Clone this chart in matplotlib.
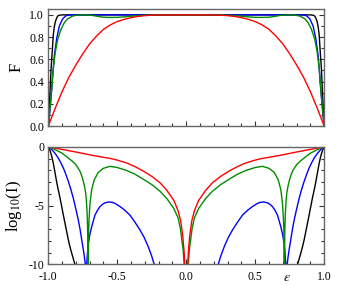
import numpy as np
import matplotlib
matplotlib.use("Agg")
import matplotlib.pyplot as plt
from matplotlib.ticker import MultipleLocator

plt.rcParams['font.family'] = ['Liberation Serif', 'DejaVu Serif']
plt.rcParams['mathtext.fontset'] = 'stix'
plt.rcParams['axes.unicode_minus'] = False

# values read for eps in [-1, 0]; the curves are mirror images about eps = 0
# top panel: F
eps_F_black = [-1, -0.995, -0.988, -0.98, -0.975, -0.97, -0.964, -0.957, -0.949, -0.94, -0.932, -0.92, -0.9, -0.8, 0]
F_black = [0, 0.12, 0.31, 0.52, 0.61, 0.70, 0.82, 0.89, 0.94, 0.97, 0.99, 0.997, 1.0, 1.0, 1.0]

eps_F_blue = [-1, -0.99, -0.983, -0.975, -0.968, -0.956, -0.939, -0.92, -0.896, -0.872, -0.848, -0.8, 0]
F_blue = [0, 0.12, 0.22, 0.34, 0.46, 0.64, 0.79, 0.90, 0.965, 0.992, 0.999, 1.0, 1.0]

eps_F_green = [-1, -0.988, -0.975, -0.964, -0.949, -0.932, -0.908, -0.884, -0.86, -0.823, -0.787,
               -0.75, -0.72, -0.68, -0.64, -0.6, -0.55, -0.5, -0.45, -0.4, -0.35, -0.3, -0.2, -0.1, 0]
F_green = [0, 0.16, 0.34, 0.52, 0.67, 0.78, 0.87, 0.93, 0.965, 0.99, 0.998,
           1.0, 1.0, 0.995, 0.986, 0.979, 0.977, 0.978, 0.982, 0.988, 0.993, 0.997, 1.0, 1.0, 1.0]

eps_F_red = [-1, -0.95, -0.9, -0.85, -0.8, -0.75, -0.7, -0.65, -0.6, -0.55, -0.5, -0.45, -0.4,
             -0.35, -0.3, -0.25, -0.2, -0.1, 0]
F_red = [0, 0.16, 0.31, 0.44, 0.55, 0.65, 0.74, 0.81, 0.87, 0.91, 0.94, 0.96, 0.975,
         0.986, 0.993, 0.997, 0.999, 1.0, 1.0]

# bottom panel: log10(I)
eps_I_black = [-1, -0.988, -0.975, -0.963, -0.951, -0.94, -0.928, -0.915, -0.903, -0.891, -0.879,
               -0.867, -0.855, -0.843, -0.83, -0.807, -0.78, 0]
I_black = [0, -0.3, -0.8, -1.45, -2.22, -2.95, -3.65, -4.35, -5.07, -5.8, -6.5,
           -7.2, -7.9, -8.5, -9.06, -10, -11, -16]

eps_I_blue = [-1, -0.982, -0.964, -0.946, -0.928, -0.91, -0.891, -0.873, -0.855, -0.837, -0.819,
              -0.801, -0.783, -0.77, -0.758, -0.748, -0.739, -0.732, -0.727, -0.722, -0.716, -0.71,
              -0.698, -0.686, -0.662, -0.644, -0.625, -0.607, -0.589, -0.56, -0.535, -0.517, -0.48,
              -0.444, -0.408, -0.372, -0.335, -0.305, -0.275, -0.25, -0.232, -0.21, -0.1, 0]
I_blue = [0, -0.15, -0.37, -0.63, -0.94, -1.33, -1.79, -2.33, -2.93, -3.6, -4.36,
          -5.25, -6.2, -7.0, -7.9, -8.6, -9.3, -10.0, -11, -10.0, -9.0, -8.2,
          -7.4, -6.8, -5.8, -5.4, -5.07, -4.88, -4.75, -4.68, -4.72, -4.8, -5.07,
          -5.4, -5.8, -6.4, -7.07, -7.7, -8.5, -9.3, -10, -11, -13, -14]

eps_I_green = [-1, -0.975, -0.951, -0.927, -0.903, -0.879, -0.855, -0.831, -0.807, -0.788, -0.77,
               -0.758, -0.746, -0.737, -0.729, -0.724, -0.72, -0.717, -0.715, -0.713, -0.712,
               -0.711, -0.708, -0.705, -0.698, -0.686, -0.667, -0.638, -0.601, -0.553, -0.5,
               -0.432, -0.37, -0.312, -0.25, -0.188, -0.14, -0.092, -0.06, -0.043, -0.022,
               -0.015, -0.008, 0]
I_green = [0, -0.1, -0.23, -0.37, -0.51, -0.72, -0.94, -1.17, -1.42, -1.72, -2.08,
           -2.45, -2.93, -3.4, -3.93, -4.6, -5.36, -6.2, -7.1, -9, -12,
           -12, -7.2, -6.2, -4.8, -3.65, -2.79, -2.17, -1.82, -1.65, -1.75,
           -2.0, -2.33, -2.74, -3.2, -3.79, -4.4, -5.2, -6.0, -6.9, -8.8,
           -10.0, -12, -14]

eps_I_red = [-1, -0.95, -0.9, -0.85, -0.8, -0.75, -0.7, -0.65, -0.6, -0.55, -0.5, -0.43, -0.37,
             -0.31, -0.25, -0.19, -0.14, -0.09, -0.06, -0.04, -0.025, -0.015, -0.01, 0]
I_red = [0, -0.1, -0.21, -0.32, -0.43, -0.55, -0.67, -0.78, -0.88, -0.98, -1.12, -1.37, -1.68,
         -2.06, -2.5, -3.05, -3.7, -4.55, -5.4, -6.3, -7.6, -9.0, -10.3, -13]

colors = {'black': 'black', 'blue': '#0000ff', 'green': '#008c00', 'red': '#ff0000'}


def mirror(e, v):
    e = np.asarray(e, float)
    v = np.asarray(v, float)
    return np.concatenate([e, -e[-2::-1]]), np.concatenate([v, v[-2::-1]])


fig = plt.figure(figsize=(3.38, 2.86), dpi=100)
ax1 = fig.add_axes([0.143, 0.5594, 0.816, 0.408])
ax2 = fig.add_axes([0.143, 0.0752, 0.816, 0.411])

top = [(eps_F_black, F_black, 'black'), (eps_F_blue, F_blue, 'blue'),
       (eps_F_green, F_green, 'green'), (eps_F_red, F_red, 'red')]
bot = [(eps_I_black, I_black, 'black'), (eps_I_blue, I_blue, 'blue'),
       (eps_I_green, I_green, 'green'), (eps_I_red, I_red, 'red')]

for e, v, c in top:
    x, y = mirror(e, v)
    ax1.plot(x, y, color=colors[c], lw=1.0)
for e, v, c in bot:
    x, y = mirror(e, v)
    ax2.plot(x, y, color=colors[c], lw=1.0)

ax1.set_xlim(-1, 1)
ax1.set_ylim(0, 1.05)
ax2.set_xlim(-1, 1)
ax2.set_ylim(-10, 0)

ax1.xaxis.set_major_locator(MultipleLocator(0.5))
ax1.xaxis.set_minor_locator(MultipleLocator(0.1))
ax1.yaxis.set_minor_locator(MultipleLocator(0.1))
ax1.set_xticklabels([])
ax1.set_yticks([0, 0.2, 0.4, 0.6, 0.8, 1.0])
ax1.set_yticklabels(['0.0', '0.2', '0.4', '0.6', '0.8', '1.0'])

ax2.xaxis.set_minor_locator(MultipleLocator(0.1))
ax2.set_xticks([-1, -0.5, 0, 0.5, 1])
ax2.set_xticklabels(['-1.0', '-0.5', '0.0', '0.5', '1.0'])
ax2.set_yticks([0, -5, -10])
ax2.set_yticklabels(['0', '-5', '-10'])
ax2.yaxis.set_minor_locator(MultipleLocator(1))

for ax in (ax1, ax2):
    for s in ax.spines.values():
        s.set_color('0.4')
        s.set_linewidth(1.0)
    ax.tick_params(which='both', direction='in', right=True, top=False,
                   labelsize=8.5, color='0.2', width=0.8)
    ax.tick_params(which='major', length=3.5, pad=3)
    ax.tick_params(which='minor', length=2)
ax2.tick_params(axis='x', which='major', pad=5)

ax1.set_ylabel('F', fontsize=12)
ax2.set_ylabel('log$_{10}$(I)', fontsize=12)
ax1.yaxis.set_label_coords(-0.085, 0.5)
ax2.yaxis.set_label_coords(-0.09, 0.5)

ax2.text(0.73, -0.14, r'$\epsilon$', transform=ax2.get_xaxis_transform(),
         fontsize=10, ha='center', va='baseline')

fig.savefig('out.png', dpi=100)
